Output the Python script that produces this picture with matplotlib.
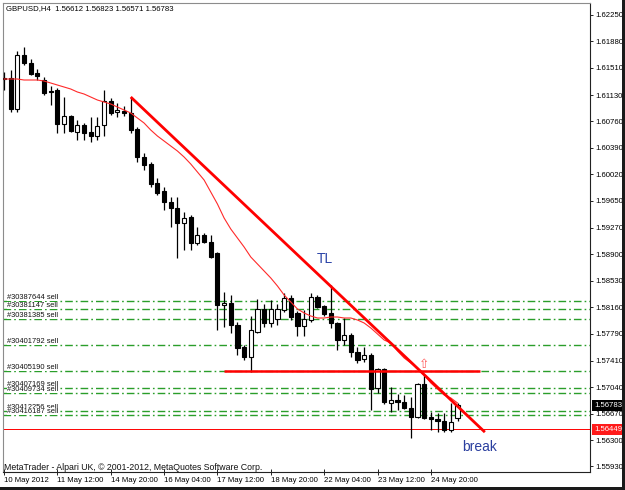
import matplotlib
matplotlib.use('Agg')
import matplotlib.pyplot as plt
from matplotlib.patches import Rectangle
import matplotlib.transforms as mtransforms

plt.rcParams['font.family'] = ['Liberation Sans', 'DejaVu Sans']
plt.rcParams['lines.scale_dashes'] = False

title = "GBPUSD,H4  1.56612 1.56823 1.56571 1.56783"
copyright_text = "MetaTrader - Alpari UK, \u00a9 2001-2012, MetaQuotes Software Corp."

# H4 bars, 10 May 2012 04:00 ... 25 May 2012
opens = [1.61368, 1.61368, 1.60934, 1.6169, 1.61578, 1.61438, 1.6134, 1.61186, 1.612, 1.60724,
         1.60836, 1.60612, 1.6071, 1.60612, 1.60556, 1.6071, 1.61046, 1.60892, 1.60906, 1.60878,
         1.60654, 1.60262, 1.60164, 1.59898, 1.59786, 1.59632, 1.59548, 1.59338, 1.59422, 1.59058,
         1.5917, 1.59072, 1.58918, 1.5819, 1.58218, 1.5791, 1.57602, 1.57462, 1.57812, 1.58134,
         1.57938, 1.57994, 1.5812, 1.58288, 1.58078, 1.57896, 1.5798, 1.58302, 1.58176, 1.58078,
         1.57938, 1.577, 1.5777, 1.57532, 1.57434, 1.5749, 1.57028, 1.57294, 1.56818, 1.5686,
         1.56832, 1.56748, 1.56622, 1.57084, 1.56622, 1.56594, 1.56566, 1.5644, 1.56612]
highs = [1.61452, 1.6148, 1.61746, 1.61802, 1.61634, 1.61494, 1.61382, 1.61256, 1.61228, 1.61102,
         1.6085, 1.6078, 1.60738, 1.60822, 1.60822, 1.612, 1.61088, 1.61018, 1.60976, 1.61102,
         1.60682, 1.60318, 1.60192, 1.59968, 1.59842, 1.59702, 1.59702, 1.59492, 1.5945, 1.59282,
         1.59198, 1.5917, 1.58932, 1.58372, 1.5833, 1.57952, 1.5763, 1.58036, 1.58274, 1.58204,
         1.5826, 1.58204, 1.58358, 1.5833, 1.58106, 1.5812, 1.58358, 1.5833, 1.5819, 1.5847,
         1.57952, 1.58008, 1.57798, 1.57602, 1.57602, 1.57518, 1.57308, 1.57308, 1.57042, 1.56944,
         1.5693, 1.56902, 1.57098, 1.57224, 1.56692, 1.56678, 1.56678, 1.56818, 1.56823]
lows = [1.612, 1.60892, 1.60892, 1.6155, 1.6141, 1.6134, 1.6113, 1.6099, 1.60598, 1.60598,
        1.60612, 1.605, 1.605, 1.60472, 1.605, 1.60556, 1.6085, 1.60822, 1.60836, 1.60598,
        1.60192, 1.6008, 1.59842, 1.5973, 1.5952, 1.59282, 1.58848, 1.5896, 1.5896, 1.5903,
        1.59058, 1.58848, 1.5784, 1.57882, 1.57798, 1.5749, 1.5742, 1.57252, 1.57798, 1.57882,
        1.57882, 1.5791, 1.58092, 1.5798, 1.57756, 1.57756, 1.57952, 1.58148, 1.58036, 1.57868,
        1.5756, 1.5763, 1.57462, 1.57378, 1.57392, 1.5672, 1.56958, 1.56804, 1.56692, 1.5672,
        1.56734, 1.56328, 1.56608, 1.56594, 1.5644, 1.56412, 1.56412, 1.56412, 1.56571]
closes = [1.61354, 1.60934, 1.6169, 1.61578, 1.61424, 1.61396, 1.61158, 1.61172, 1.60724, 1.60836,
          1.60626, 1.6071, 1.60598, 1.60556, 1.60696, 1.61046, 1.60878, 1.6092, 1.60878, 1.6064,
          1.60262, 1.6015, 1.59884, 1.59758, 1.59632, 1.59548, 1.59338, 1.59408, 1.59058, 1.5917,
          1.59072, 1.58862, 1.5819, 1.58218, 1.5791, 1.57588, 1.57462, 1.5784, 1.58134, 1.57938,
          1.58134, 1.58134, 1.58288, 1.58022, 1.57896, 1.57994, 1.58302, 1.58162, 1.58064, 1.57938,
          1.577, 1.5777, 1.57532, 1.5742, 1.5749, 1.57014, 1.57294, 1.56832, 1.5686, 1.56832,
          1.56748, 1.56622, 1.57084, 1.56608, 1.56594, 1.56566, 1.5644, 1.56552, 1.56783]
ma = [1.61354, 1.61354, 1.61354, 1.6134, 1.6134, 1.6134, 1.61326, 1.61298, 1.6127, 1.61242,
      1.61214, 1.61172, 1.61144, 1.61102, 1.6106, 1.61032, 1.61004, 1.60962, 1.6092, 1.60878,
      1.60808, 1.60738, 1.6064, 1.60556, 1.60486, 1.60416, 1.60346, 1.60262, 1.60164, 1.60052,
      1.5994, 1.59772, 1.59604, 1.59408, 1.59254, 1.59128, 1.59002, 1.58862, 1.58764, 1.58666,
      1.58568, 1.58456, 1.5833, 1.58232, 1.58134, 1.58078, 1.58036, 1.58008, 1.58008, 1.58022,
      1.58022, 1.58008, 1.58008, 1.5798, 1.57938, 1.57868, 1.57784, 1.577, 1.57658, 1.57546,
      1.57448, 1.57378, 1.57308, 1.5721, 1.57098, 1.57014, 1.5693, 1.56888, 1.56818]

x_tick_pos = [0, 8, 16, 24, 32, 40, 48, 56, 64]
x_tick_labels = ["10 May 2012", "11 May 12:00", "14 May 20:00", "16 May 04:00",
                 "17 May 12:00", "18 May 20:00", "22 May 04:00", "23 May 12:00",
                 "24 May 20:00"]
y_ticks = [1.62250, 1.61880, 1.61510, 1.61130, 1.60760, 1.60390, 1.60020, 1.59650,
           1.59270, 1.58900, 1.58530, 1.58160, 1.57790, 1.57410, 1.57040, 1.56670,
           1.56300, 1.55930]

order_labels = ["#30387644 sell", "#30381147 sell", "#30381385 sell", "#30401792 sell",
                "#30405190 sell", "#30407169 sell", "#30409734 sell", "#30412256 sell",
                "#30416187 sell"]
order_prices = [1.58246, 1.58134, 1.57994, 1.5763, 1.57266, 1.57028, 1.56958, 1.56706, 1.5665]

tl_x = [19, 72.1]
tl_y = [1.61102, 1.5641]
level_x = [33, 71.4]
level_price = 1.57266
arrow_bar = 63
bid_price = 1.56449
last_price = 1.56783
tl_text_pos = (46.9, 1.58834)
break_text_pos = (68.7, 1.56202)

fig = plt.figure(figsize=(6.25, 4.9), dpi=100)
fig.patch.set_facecolor('white')
ax = fig.add_axes([3/625, 18/490, 587/625, 469/490])
ax.set_facecolor('white')
ax.set_xlim(-0.15, 87.86)
ax.set_ylim(1.55852, 1.62418)

trans = mtransforms.blended_transform_factory(ax.transAxes, ax.transData)

# order lines
for p, lab in zip(order_prices, order_labels):
    ax.axhline(p, color='#2a9e2a', lw=1.0, ls=(0, (5.5, 2.2, 1.2, 2.2)), zorder=1)
    ax.text(0.007, p, lab, transform=trans, fontsize=5.4, ha='left', va='bottom',
            color='#111111', zorder=8,
            bbox=dict(boxstyle='square,pad=0.05', fc='white', ec='none'))

ax.axhline(bid_price, color='red', lw=0.7, zorder=2)

# candles
for i, (o, h, l, c) in enumerate(zip(opens, highs, lows, closes)):
    ax.vlines(i, l, h, color='black', lw=0.9, zorder=3)
    bull = c >= o
    ax.bar(i, abs(c - o), bottom=min(o, c), width=0.62,
           facecolor='white' if bull else 'black', edgecolor='black',
           lw=0.8, zorder=4)

ax.plot(range(len(ma)), ma, color='#ff2a2a', lw=0.8, zorder=5)
ax.plot(tl_x, tl_y, color='#ff0000', lw=2.0, zorder=6, solid_capstyle='butt')
ax.plot(level_x, [level_price, level_price], color='#ff0000', lw=1.8, zorder=6,
        solid_capstyle='butt')
ax.text(arrow_bar, level_price, '\u21e7', color='#ff5a5a', fontsize=9,
        family='DejaVu Sans', ha='center', va='bottom', zorder=7)

ax.text(tl_text_pos[0], tl_text_pos[1], 'TL', color='#2b44a8', fontsize=10,
        ha='left', va='center', zorder=9)
ax.text(break_text_pos[0], break_text_pos[1], 'break', color='#2b3f9f', fontsize=10,
        ha='left', va='center', zorder=9)

ax.text(0.002, 0.0, copyright_text, transform=ax.transAxes, fontsize=6.3,
        ha='left', va='bottom', color='#111111', zorder=9)

# axes
ax.yaxis.tick_right()
ax.set_yticks(y_ticks)
ax.set_yticklabels([f"{v:.5f}" for v in y_ticks])
ax.tick_params(axis='y', direction='out', length=2.2, width=0.6, pad=1.4,
               labelsize=5.6, right=True, left=False, colors='black')
ax.set_xticks(x_tick_pos)
ax.set_xticklabels(x_tick_labels, ha='left')
ax.tick_params(axis='x', direction='inout', length=4, width=0.6, pad=1.6,
               labelsize=5.6, colors='black')
for s in ['left', 'top']:
    ax.spines[s].set_color('#8c8c8c')
    ax.spines[s].set_linewidth(0.8)
for s in ['right', 'bottom']:
    ax.spines[s].set_color('#222222')
    ax.spines[s].set_linewidth(0.8)

ax.text(1.0 + 4/587, last_price, f"{last_price:.5f}", transform=trans, ha='left',
        va='center', fontsize=5.6, color='white', clip_on=False, zorder=10,
        bbox=dict(boxstyle='square,pad=0.25', fc='black', ec='none'))
ax.text(1.0 + 4/587, bid_price, f"{bid_price:.5f}", transform=trans, ha='left',
        va='center', fontsize=5.6, color='white', clip_on=False, zorder=10,
        bbox=dict(boxstyle='square,pad=0.25', fc='#ff1a1a', ec='none'))

fig.text(6/625, 1 - 9/490, title, fontsize=5.6, ha='left', va='center', color='black')

fig.patches.append(Rectangle((622/625, 0), 3/625, 1, transform=fig.transFigure,
                             facecolor='#1a1a1a', edgecolor='none'))
fig.patches.append(Rectangle((0, 0), 1, 3/490, transform=fig.transFigure,
                             facecolor='#1a1a1a', edgecolor='none'))

fig.savefig('out.png', dpi=100)
